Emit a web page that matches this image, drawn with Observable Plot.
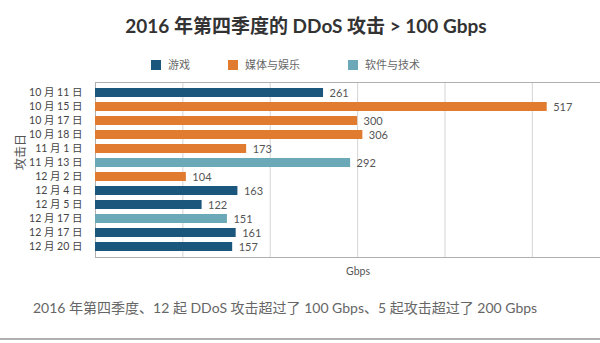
<!DOCTYPE html>
<html>
<head>
<meta charset="utf-8">
<script src="https://cdn.jsdelivr.net/npm/d3@7"></script>
<script src="https://cdn.jsdelivr.net/npm/@observablehq/plot@0.6"></script>
<style>
  html, body { margin: 0; padding: 0; background: #fff; }
  #wrap { position: relative; width: 600px; height: 343px; overflow: hidden; background: #fff;
          font-family: Lato, "Noto Sans CJK SC", sans-serif; }
  #title { position: absolute; left: 0; width: 612px; top: 13px; text-align: center;
           font-size: 19px; font-weight: bold; color: #333; line-height: 26px; }
  .leg { position: absolute; top: 58px; font-size: 11px; color: #666; line-height: 14px; white-space: nowrap; }
  .leg span.sw { display: inline-block; width: 10px; height: 10px; vertical-align: -1px; margin-right: 7px; }
  #chart { position: absolute; left: 0; top: 75px; }
  #caption { position: absolute; left: 33px; top: 298px; font-size: 14px; color: #666; white-space: nowrap; line-height: 20px; }
  #rule { position: absolute; left: 0; width: 600px; top: 338px; height: 2px; background: #b0b0b0; }
</style>
</head>
<body>
<div id="wrap">
  <div id="title">2016 年第四季度的 DDoS 攻击 &gt; 100 Gbps</div>
  <div id="legend"></div>
  <div id="chart"></div>
  <div id="caption">2016 年第四季度、12 起 DDoS 攻击超过了 100 Gbps、5 起攻击超过了 200 Gbps</div>
  <div id="rule"></div>
</div>
<script>
const dates = ["10 月 11 日","10 月 15 日","10 月 17 日","10 月 18 日","11 月 1 日","11 月 13 日","12 月 2 日","12 月 4 日","12 月 5 日","12 月 17 日","12 月 17 日","12 月 20 日"];
const values = [261, 517, 300, 306, 173, 292, 104, 163, 122, 151, 161, 157];
const sectors = ["游戏","媒体与娱乐","媒体与娱乐","媒体与娱乐","媒体与娱乐","软件与技术","媒体与娱乐","游戏","游戏","软件与技术","游戏","游戏"];
const sectorNames = ["游戏","媒体与娱乐","软件与技术"];
const sectorColors = ["#1b567c","#e07b30","#6ba8b8"];
const gridTicks = [100, 200, 300, 400, 500];

const data = values.map((v, i) => ({i, date: dates[i], value: v, sector: sectors[i]}));

// legend
const legendLefts = [151, 228, 348];
const legend = document.getElementById("legend");
sectorNames.forEach((s, k) => {
  const d = document.createElement("div");
  d.className = "leg";
  d.style.left = legendLefts[k] + "px";
  d.innerHTML = `<span class="sw" style="background:${sectorColors[k]}"></span>${s}`;
  legend.appendChild(d);
});

const chart = Plot.plot({
  width: 600,
  height: 210,
  marginTop: 7,
  marginBottom: 28,
  marginLeft: 95,
  marginRight: 0,
  style: {fontFamily: 'Lato, "Noto Sans CJK SC", sans-serif', fontSize: "10.5px", color: "#444", background: "#fff"},
  x: {domain: [0, 578], axis: null},
  y: {domain: d3.range(dates.length), paddingInner: 0.38, paddingOuter: 0.2, label: null},
  color: {domain: sectorNames, range: sectorColors},
  marks: [
    Plot.gridX(gridTicks, {stroke: "#d4d4d4", strokeOpacity: 1}),
    Plot.frame({stroke: "#b0b0b0"}),
    Plot.barX(data, {x: "value", y: "i", fill: "sector"}),
    Plot.text(data, {x: "value", y: "i", text: d => String(d.value), textAnchor: "start", dx: 6, fontSize: 11, fill: "#555"}),
    Plot.axisY({tickSize: 0, tickPadding: 13, tickFormat: i => dates[i], label: null, fill: "#444"}),
    Plot.text(["攻击日"], {frameAnchor: "left", rotate: -90, dx: -74, fontSize: 12, fill: "#555"}),
    Plot.text(["Gbps"], {frameAnchor: "bottom", dx: 10, dy: 17, fontSize: 10.5, fill: "#555"})
  ]
});
document.getElementById("chart").appendChild(chart);
</script>
</body>
</html>
